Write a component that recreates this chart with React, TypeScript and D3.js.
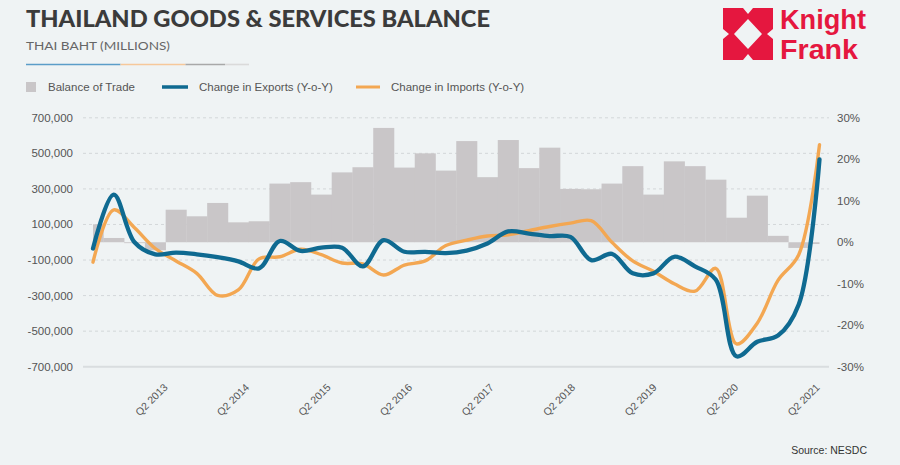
import React from "react";
import * as d3 from "d3";

const quarters = [
  "Q3 2012", "Q4 2012",
  "Q1 2013", "Q2 2013", "Q3 2013", "Q4 2013",
  "Q1 2014", "Q2 2014", "Q3 2014", "Q4 2014",
  "Q1 2015", "Q2 2015", "Q3 2015", "Q4 2015",
  "Q1 2016", "Q2 2016", "Q3 2016", "Q4 2016",
  "Q1 2017", "Q2 2017", "Q3 2017", "Q4 2017",
  "Q1 2018", "Q2 2018", "Q3 2018", "Q4 2018",
  "Q1 2019", "Q2 2019", "Q3 2019", "Q4 2019",
  "Q1 2020", "Q2 2020", "Q3 2020", "Q4 2020",
  "Q1 2021", "Q2 2021",
];

// Balance of trade, THB millions
const balanceOfTrade = [
  101000, 24000, -5000, -45000, 183000, 146000, 221000, 112000, 118000, 330000,
  338000, 268000, 393000, 422000, 643000, 420000, 500000, 403000, 569000, 366000,
  575000, 417000, 532000, 300000, 298000, 330000, 428000, 268000, 455000, 428000,
  352000, 138000, 262000, 36000, -32000, -10000,
];

// Change in exports, % y-o-y
const exportsChange = [
  -1.5, 11.5, 0.0, -2.9, -2.5, -2.9, -3.6, -4.6, -6.3, 0.3,
  -2.1, -1.3, -1.3, -5.8, 0.5, -2.3, -2.3, -2.6, -2.0, -0.3,
  2.6, 2.1, 1.5, 1.3, -4.3, -2.8, -7.5, -7.5, -3.5, -5.8,
  -9.0, -27.5, -24.0, -22.5, -15.0, 20.0,
];

// Change in imports, % y-o-y
const importsChange = [
  -4.8, 7.8, 3.5, -1.5, -4.5, -7.5, -12.8, -11.5, -4.0, -3.5,
  -1.7, -3.0, -5.0, -5.2, -7.9, -5.5, -4.5, -0.8, 0.5, 1.5,
  1.8, 2.8, 3.8, 4.6, 5.2, 0.0, -4.5, -7.0, -10.0, -11.8,
  -6.3, -24.5, -19.5, -9.2, -3.0, 23.5,
];

const leftTicks = [700000, 500000, 300000, 100000, -100000, -300000, -500000, -700000];
const rightTicks = [30, 20, 10, 0, -10, -20, -30];
const xTickLabels = [
  "Q2 2013", "Q2 2014", "Q2 2015", "Q2 2016", "Q2 2017",
  "Q2 2018", "Q2 2019", "Q2 2020", "Q2 2021",
];

const legendItems = [
  "Balance of Trade",
  "Change in Exports (Y-o-Y)",
  "Change in Imports (Y-o-Y)",
];

const BG = "#eff3f4";
const BAR = "#c9c6c8";
const BLUE = "#0f6a91";
const ORANGE = "#f3a752";
const TEXT = "#555555";
const FONT = "'Liberation Sans', Arial, sans-serif";

export default function App() {
  const W = 900;
  const H = 465;
  const plotLeft = 83;
  const plotRight = 829;

  const x = d3.scalePoint<string>().domain(quarters).range([93, 819.5]);
  const step = x.step();
  const yL = d3.scaleLinear().domain([-700000, 700000]).range([366.7, 117.8]);
  const yR = d3.scaleLinear().domain([-30, 30]).range([366.7, 117.8]);

  const lineGen = d3
    .line<number>()
    .x((_, i) => x(quarters[i]) as number)
    .y((d) => yR(d))
    .curve(d3.curveCatmullRom.alpha(0.5));

  const firstX = x(quarters[0]) as number;
  const lastX = x(quarters[quarters.length - 1]) as number;
  const labelX = d3
    .scaleLinear()
    .domain([0, xTickLabels.length - 1])
    .range([(x(xTickLabels[0]) as number) + 13, (x(xTickLabels[xTickLabels.length - 1]) as number) + 1]);

  const fmt = d3.format(",");

  return (
    <svg
      width={W}
      height={H}
      style={{ position: "absolute", left: 0, top: 0, background: BG }}
      fontFamily={FONT}
    >
      <rect x={0} y={0} width={W} height={H} fill={BG} />
      <defs>
        <clipPath id="barClip">
          <rect x={firstX} y={0} width={lastX - firstX} height={H} />
        </clipPath>
      </defs>

      {/* Title */}
      <text
        x={26}
        y={27}
        fontFamily="Lato, 'Open Sans', sans-serif"
        fontWeight={900}
        fontSize={22}
        fill="#3b3b3b"
        textLength={464}
        lengthAdjust="spacingAndGlyphs"
      >
        THAILAND GOODS &amp; SERVICES BALANCE
      </text>
      <text
        x={26}
        y={50}
        fontFamily="Lato, 'Open Sans', sans-serif"
        fontSize={12}
        fill="#666"
        textLength={144}
        lengthAdjust="spacingAndGlyphs"
      >
        THAI BAHT (MILLIONS)
      </text>
      <line x1={26} x2={120.5} y1={64.5} y2={64.5} stroke="#5b9dc8" strokeWidth={1.6} />
      <line x1={120.5} x2={185.5} y1={64.5} y2={64.5} stroke="#f6c89a" strokeWidth={1.6} />
      <line x1={185.5} x2={225} y1={64.5} y2={64.5} stroke="#a8a8a8" strokeWidth={1.6} />
      <line x1={225} x2={249} y1={64.5} y2={64.5} stroke="#dadada" strokeWidth={1.6} />

      {/* Logo */}
      <g transform="translate(723,8)">
        <path
          fill="#e5173f"
          fillRule="evenodd"
          d={
            "M0,0 L20,0 L25,6 L30,0 L50,0 L50,21 L44,26 L50,31 L50,52 L30,52 L25,46 L20,52 L0,52 L0,31 L6,26 L0,21 Z " +
            "M25,11 L39,26 L25,41 L11,26 Z"
          }
        />
      </g>
      <text x={780} y={28.5} fontFamily="'Liberation Sans', Arial, sans-serif" fontWeight={700} fontSize={27} fill="#e5173f" textLength={86} lengthAdjust="spacingAndGlyphs">
        Knight
      </text>
      <text x={780} y={59} fontFamily="'Liberation Sans', Arial, sans-serif" fontWeight={700} fontSize={27} fill="#e5173f" textLength={78} lengthAdjust="spacingAndGlyphs">
        Frank
      </text>

      {/* Legend */}
      <rect x={26} y={82} width={10} height={10} fill={BAR} />
      <text x={48} y={91} fontSize={11.5} fill={TEXT}>{legendItems[0]}</text>
      <line x1={162} x2={188} y1={87} y2={87} stroke={BLUE} strokeWidth={3.5} />
      <text x={199} y={91} fontSize={11.5} fill={TEXT}>{legendItems[1]}</text>
      <line x1={356} x2={380} y1={87} y2={87} stroke={ORANGE} strokeWidth={3} />
      <text x={391} y={91} fontSize={11.5} fill={TEXT}>{legendItems[2]}</text>

      {/* Gridlines */}
      {leftTicks.slice(0, -1).map((t) => (
        <line
          key={"g" + t}
          x1={plotLeft}
          x2={plotRight}
          y1={yL(t)}
          y2={yL(t)}
          stroke="#d3d7d9"
          strokeWidth={1}
          strokeDasharray="3,3"
        />
      ))}

      {/* Bars */}
      <g clipPath="url(#barClip)">
        {balanceOfTrade.map((v, i) => (
          <rect
            key={"b" + i}
            x={(x(quarters[i]) as number) - step / 2}
            y={Math.min(yL(v), yL(0))}
            width={step + 0.3}
            height={Math.abs(yL(v) - yL(0))}
            fill={BAR}
          />
        ))}
      </g>

      {/* Bottom axis line */}
      <line x1={plotLeft} x2={plotRight} y1={yL(-700000)} y2={yL(-700000)} stroke="#d9dddf" strokeWidth={2} />

      {/* Lines */}
      <path d={lineGen(importsChange) || ""} fill="none" stroke={ORANGE} strokeWidth={3.4} strokeLinejoin="round" strokeLinecap="round" />
      <path d={lineGen(exportsChange) || ""} fill="none" stroke={BLUE} strokeWidth={4.3} strokeLinejoin="round" strokeLinecap="round" />

      {/* Left axis */}
      {leftTicks.map((t) => (
        <text key={"l" + t} x={73} y={yL(t) + 4} textAnchor="end" fontSize={11.5} fill={TEXT}>
          {fmt(t).replace("−", "-")}
        </text>
      ))}

      {/* Right axis */}
      {rightTicks.map((t) => (
        <text key={"r" + t} x={837} y={yR(t) + 4} textAnchor="start" fontSize={11.5} fill={TEXT}>
          {t}%
        </text>
      ))}

      {/* X labels */}
      {xTickLabels.map((lab, i) => (
        <text
          key={lab}
          transform={`translate(${labelX(i)},${388}) rotate(-45)`}
          textAnchor="end"
          fontSize={10.5}
          fill={TEXT}
        >
          {lab}
        </text>
      ))}

      {/* Source */}
      <text x={867} y={454} textAnchor="end" fontSize={10.5} fill="#333">
        Source: NESDC
      </text>
    </svg>
  );
}
